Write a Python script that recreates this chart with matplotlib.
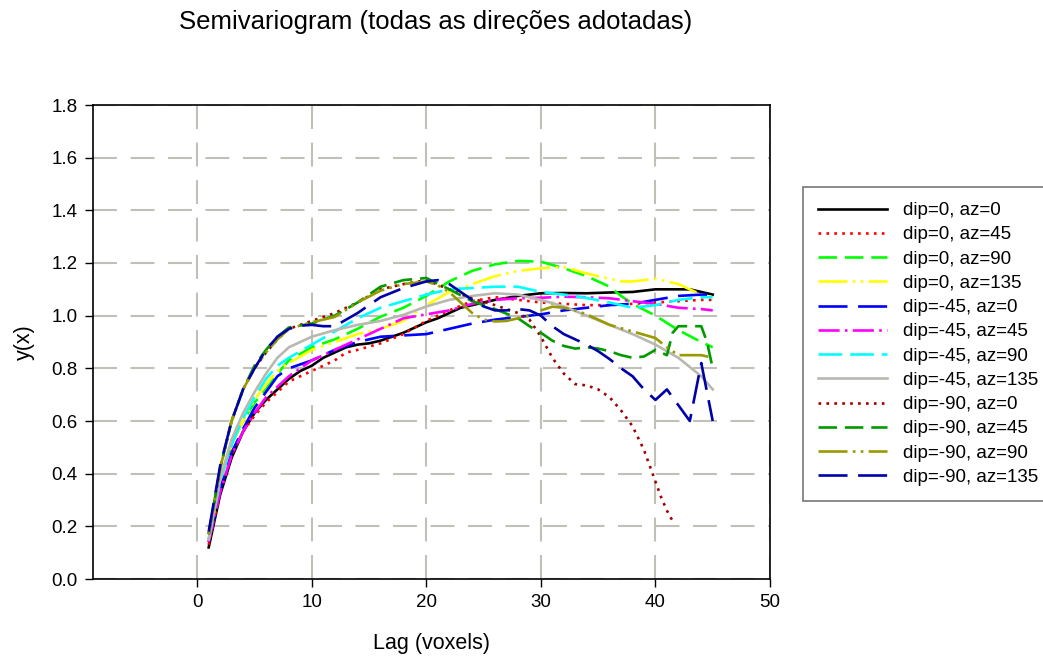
import matplotlib
matplotlib.use("Agg")
import matplotlib.pyplot as plt

plt.rcParams["font.family"] = ["Liberation Sans", "DejaVu Sans"]

# lag values (voxels) and semivariogram values
LAG_A = [1, 2, 3, 4, 5, 6, 7, 8, 9, 10, 11, 12, 13, 14, 15, 16, 17, 18, 19, 20,
         21, 22, 23, 24, 25, 26, 27, 28, 29, 30, 32, 34, 36, 38, 40, 42, 43, 44, 45]
D0_AZ0 = [0.12, 0.32, 0.46, 0.56, 0.63, 0.68, 0.72, 0.76, 0.79, 0.81, 0.84, 0.86, 0.88, 0.89,
          0.895, 0.905, 0.92, 0.935, 0.955, 0.975, 0.99, 1.01, 1.03, 1.04, 1.05, 1.06, 1.067,
          1.075, 1.08, 1.085, 1.086, 1.085, 1.088, 1.09, 1.10, 1.10, 1.10, 1.09, 1.08]

LAG_B = [1, 2, 3, 4, 5, 6, 7, 8, 10, 12, 13, 14, 16, 18, 20, 22, 24, 26, 28, 30, 32, 34,
         36, 38, 40, 42, 44, 45]
D0_AZ45 = [0.13, 0.33, 0.47, 0.56, 0.62, 0.67, 0.71, 0.75, 0.79, 0.83, 0.86, 0.87, 0.895,
           0.93, 0.98, 1.02, 1.055, 1.07, 1.06, 1.05, 1.045, 1.04, 1.04, 1.045, 1.05, 1.055,
           1.06, 1.06]

LAG_C = [1, 2, 3, 4, 5, 6, 7, 8, 10, 12, 14, 16, 18, 20, 22, 24, 26, 28, 30, 32, 34, 36,
         37, 38, 40, 42, 44, 45]
D0_AZ90 = [0.15, 0.37, 0.51, 0.60, 0.67, 0.72, 0.78, 0.83, 0.88, 0.91, 0.95, 0.996, 1.03,
           1.075, 1.13, 1.17, 1.195, 1.208, 1.205, 1.18, 1.15, 1.11, 1.075, 1.045, 1.00,
           0.945, 0.90, 0.88]
D0_AZ135 = [0.15, 0.37, 0.51, 0.60, 0.68, 0.74, 0.79, 0.82, 0.87, 0.90, 0.93, 0.95, 0.98,
            1.04, 1.09, 1.12, 1.15, 1.17, 1.18, 1.185, 1.16, 1.14, 1.13, 1.13, 1.14, 1.12,
            1.08, 1.07]
DM45_AZ90 = [0.15, 0.37, 0.51, 0.61, 0.69, 0.76, 0.81, 0.84, 0.89, 0.94, 0.99, 1.03, 1.055,
             1.08, 1.10, 1.105, 1.11, 1.11, 1.09, 1.08, 1.067, 1.05, 1.04, 1.03, 1.04, 1.06,
             1.07, 1.07]

LAG_D = [1, 2, 3, 4, 5, 6, 7, 8, 10, 12, 14, 16, 18, 20, 22, 24, 26, 28, 30, 32, 34, 36,
         38, 40, 42, 44, 45]
DM45_AZ0 = [0.14, 0.34, 0.48, 0.57, 0.65, 0.71, 0.77, 0.80, 0.83, 0.87, 0.90, 0.92, 0.925,
            0.93, 0.95, 0.97, 0.985, 0.995, 1.005, 1.02, 1.03, 1.04, 1.045, 1.06, 1.075,
            1.08, 1.08]
DM45_AZ45 = [0.14, 0.33, 0.47, 0.56, 0.63, 0.69, 0.73, 0.77, 0.83, 0.87, 0.91, 0.95, 0.99,
             1.005, 1.02, 1.045, 1.06, 1.066, 1.068, 1.072, 1.07, 1.066, 1.055, 1.045, 1.03,
             1.025, 1.02]
DM45_AZ135 = [0.15, 0.38, 0.53, 0.63, 0.71, 0.78, 0.84, 0.88, 0.92, 0.945, 0.965, 0.98,
              1.003, 1.035, 1.06, 1.075, 1.085, 1.08, 1.06, 1.035, 1.0, 0.965, 0.93, 0.89,
              0.84, 0.77, 0.72]

LAG_E = [1, 2, 3, 4, 5, 6, 7, 8, 10, 12, 14, 16, 18, 20, 22, 24, 26, 28, 29, 30, 31, 32,
         33, 34, 35, 36, 37, 38, 39, 40, 40.5, 41, 41.5]
DM90_AZ0 = [0.17, 0.42, 0.60, 0.72, 0.80, 0.86, 0.91, 0.95, 0.98, 1.01, 1.05, 1.10, 1.12,
            1.135, 1.10, 1.065, 1.04, 1.01, 0.985, 0.92, 0.84, 0.78, 0.74, 0.735, 0.72, 0.69,
            0.64, 0.58, 0.49, 0.37, 0.31, 0.26, 0.22]

LAG_F = [1, 2, 3, 4, 5, 6, 7, 8, 10, 12, 14, 15, 16, 18, 20, 22, 24, 26, 28, 29, 30, 31,
         32, 33, 34, 35, 36, 37, 38, 39, 40, 41, 41.5, 42, 44, 44.5, 45]
DM90_AZ45 = [0.17, 0.42, 0.60, 0.72, 0.81, 0.87, 0.92, 0.955, 0.97, 1.00, 1.05, 1.08, 1.11,
             1.135, 1.143, 1.10, 1.055, 1.025, 0.99, 0.96, 0.935, 0.905, 0.885, 0.875, 0.88,
             0.875, 0.865, 0.85, 0.84, 0.845, 0.87, 0.85, 0.935, 0.96, 0.96, 0.90, 0.80]

LAG_G = [1, 2, 3, 4, 5, 6, 7, 8, 10, 12, 14, 16, 18, 20, 21, 22, 23, 24, 25, 26, 27, 28,
         29, 30, 31, 32, 33, 34, 36, 38, 40, 41, 42, 44, 45]
DM90_AZ90 = [0.17, 0.42, 0.60, 0.72, 0.80, 0.86, 0.91, 0.95, 0.975, 0.995, 1.05, 1.095, 1.12,
             1.13, 1.115, 1.09, 1.05, 1.01, 0.985, 0.978, 0.98, 0.99, 1.0, 1.02, 1.034, 1.03,
             1.02, 1.005, 0.965, 0.94, 0.915, 0.88, 0.85, 0.85, 0.84]

LAG_H = [1, 2, 3, 4, 5, 6, 7, 8, 9, 10, 11, 12, 13, 14, 15, 16, 18, 20, 21, 22, 23, 24, 25,
         26, 27, 28, 29, 30, 31, 32, 33, 34, 35, 36, 37, 38, 39, 40, 41, 42, 43, 44, 45]
DM90_AZ135 = [0.18, 0.43, 0.60, 0.72, 0.80, 0.87, 0.92, 0.95, 0.962, 0.965, 0.96, 0.96,
              0.985, 1.01, 1.04, 1.07, 1.105, 1.13, 1.135, 1.12, 1.09, 1.06, 1.035, 1.02,
              1.02, 1.025, 1.02, 1.00, 0.96, 0.93, 0.91, 0.89, 0.865, 0.835, 0.8, 0.77, 0.72,
              0.68, 0.72, 0.66, 0.60, 0.82, 0.60]

DOT = (0, (1, 2))
DASH = (0, (7, 3))
DASHDOTDOT = (0, (11, 2, 1, 2, 1, 2))
LONGDASH = (0, (11, 4))
DASHDOT = (0, (8, 2, 1, 2))
MIDDASH = (0, (9, 3))

SERIES = [
    ("dip=0, az=0", LAG_A, D0_AZ0, "#000000", "-"),
    ("dip=0, az=45", LAG_B, D0_AZ45, "#ff0000", DOT),
    ("dip=0, az=90", LAG_C, D0_AZ90, "#00ff00", DASH),
    ("dip=0, az=135", LAG_C, D0_AZ135, "#ffff00", DASHDOTDOT),
    ("dip=-45, az=0", LAG_D, DM45_AZ0, "#0000ff", LONGDASH),
    ("dip=-45, az=45", LAG_D, DM45_AZ45, "#ff00ff", DASHDOT),
    ("dip=-45, az=90", LAG_C, DM45_AZ90, "#00ffff", MIDDASH),
    ("dip=-45, az=135", LAG_D, DM45_AZ135, "#b8b8b0", "-"),
    ("dip=-90, az=0", LAG_E, DM90_AZ0, "#a00000", DOT),
    ("dip=-90, az=45", LAG_F, DM90_AZ45, "#009900", DASH),
    ("dip=-90, az=90", LAG_G, DM90_AZ90, "#999900", DASHDOTDOT),
    ("dip=-90, az=135", LAG_H, DM90_AZ135, "#0000aa", LONGDASH),
]

fig = plt.figure(figsize=(10.43, 6.57), dpi=100)
ax = fig.add_axes([93 / 1043, 78 / 657, 677 / 1043, 474 / 657])

for label, x, y, color, ls in SERIES:
    ax.plot(x, y, color=color, ls=ls, lw=1.9, label=label)

ax.set_xlim(-9.1, 50)
ax.set_ylim(0, 1.8)
ax.set_xticks([0, 10, 20, 30, 40, 50])
ax.set_yticks([0.0, 0.2, 0.4, 0.6, 0.8, 1.0, 1.2, 1.4, 1.6, 1.8])
ax.set_yticklabels([f"{v:.1f}" for v in ax.get_yticks()])
ax.tick_params(direction="out", length=6, width=1, labelsize=13.5, pad=5)
ax.grid(True, color="#c0c0b8", ls=(0, (11.5, 6.5)), lw=1.5)
ax.set_axisbelow(True)
for sp in ax.spines.values():
    sp.set_linewidth(1.2)

ax.set_xlabel("Lag (voxels)", fontsize=15.5, labelpad=16)
ax.set_ylabel("y(x)", fontsize=15.5, labelpad=12)
fig.text(0.418, 0.966, "Semivariogram (todas as direções adotadas)", fontsize=18.5,
         ha="center", va="center")

leg = fig.legend(loc="upper left", bbox_to_anchor=(803 / 1043, 1 - 187 / 657),
                 fontsize=13.5, handlelength=3.7, handletextpad=0.85, labelspacing=0.38,
                 borderpad=0.8, borderaxespad=0, fancybox=False, frameon=True)
leg.get_frame().set_edgecolor("#555555")
leg.get_frame().set_linewidth(1.2)

fig.savefig("out.png", dpi=100)
